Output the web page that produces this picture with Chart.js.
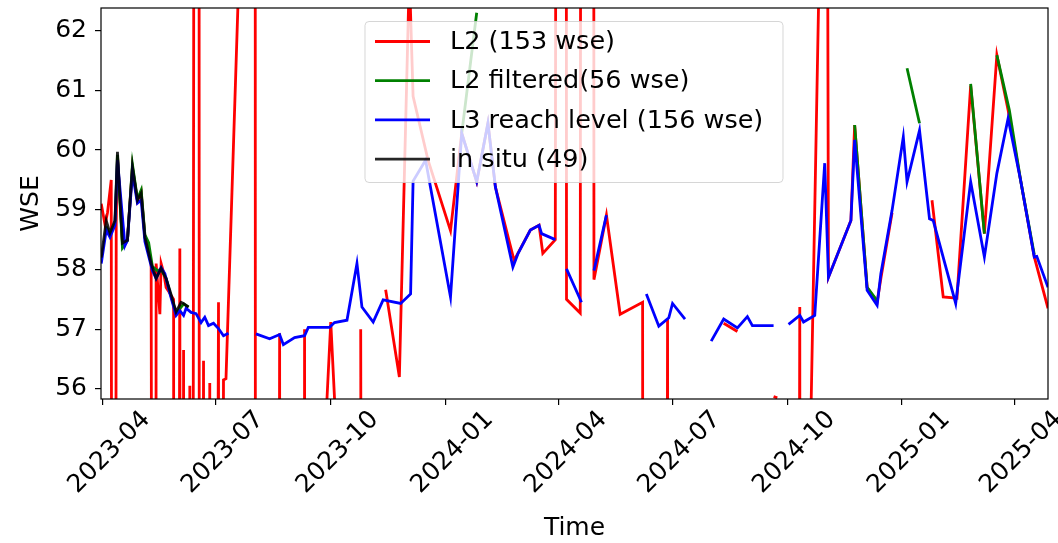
<!DOCTYPE html>
<html lang="en">
  <head>
    <meta charset="UTF-8" />
    <title>WSE time series</title>
    <script src="https://cdn.jsdelivr.net/npm/chart.js"></script>
    <style>
      body { margin: 0; background: #fff; }
    </style>
  </head>
  <body>
    <canvas id="wseChart" width="1058" height="543"></canvas>
    <script>
      // x values are days since 2023-04-01
      const tickDays = [0, 91, 183, 275, 366, 457, 549, 641, 731];
      const tickLabels = ["2023-04", "2023-07", "2023-10", "2024-01", "2024-04", "2024-07", "2024-10", "2025-01", "2025-04"];
      const wseTicks = [56, 57, 58, 59, 60, 61, 62];

      const l2Days = [-1, 2, 4, 7, 9, 11, 12, 16, 20, 24, 28, 31, 34, 39, 42, 43, 46, 47, 49, 51, 54, 57, 58, 62, 63, 65, 66, 70, 71, 75, 77, 78, 81, 82, 86, 87, 93, 94, 97, 99, 111, 122, 123, 139, 142, 143, 161, 162, 163, 178, 183, 188, 195, 207, 210, 215, 227, 238, 246, 249, 261, 279, 288, 300, 309, 315, 330, 343, 350, 353, 363, 366, 371, 372, 383, 385, 393, 394, 404, 415, 433, 434, 450, 453, 455, 470, 498, 509, 520, 538, 541, 548, 555, 559, 560, 567, 575, 580, 582, 600, 603, 613, 621, 624, 633, 650, 665, 674, 685, 696, 707, 717, 726, 736, 747, 758];
      const l2Wse = [59.10, 58.75, 58.95, 59.50, 20, 58.80, 59.90, 58.45, 58.50, 59.70, 59.15, 59.30, 58.55, 58.10, 20, 58.10, 57.25, 58.10, 57.95, 57.70, 57.60, 57.50, 20, 58.35, 20, 56.65, 20, 56.05, 20, 100, 100, 20, 56.47, 20, 56.10, 20, 57.45, 20, 56.15, 56.17, 64.0, 100, 20, 20, 56.93, 20, 20, 57.00, 20, 55.0, 57.12, 55.0, null, 57.00, 20, null, 57.66, 56.20, 62.95, 60.90, 59.83, 58.65, 60.28, 59.47, 60.45, 59.38, 58.15, 58.66, 58.74, 58.27, 58.50, 100, 100, 57.50, 57.27, 100, 100, 57.83, 58.91, 57.25, 57.45, 20, 20, 57.17, 20, null, 57.10, 56.96, null, 55.87, 55.85, null, 20, 57.37, 20, 54.5, 63.5, 75, 57.87, 58.82, 60.42, 57.70, 57.45, 57.85, 58.95, null, 59.16, 57.54, 57.52, 61.08, 58.60, 61.59, 60.67, 59.50, 58.21, 57.35];

      const l2fDays = [3, 6, 10, 12, 16, 20, 24, 28, 31, 34, 37, 40, 44, 47, 51, 54, 59, 65, 69, 150, 288, 300, 450, 603, 613, 621, 630, 645, 655, 670, 696, 707, 712, 717, 727, 736, 747];
      const l2fWse = [58.72, 58.58, 58.78, 59.92, 58.36, 58.48, 59.76, 59.18, 59.33, 58.58, 58.45, 58.05, 57.98, 58.00, 57.85, 57.62, 57.27, 57.42, 57.37, null, 60.28, 62.30, null, 60.42, 57.70, 57.48, null, 61.37, 60.45, null, 61.11, 58.60, null, 61.59, 60.67, 59.50, 58.25];

      const l3Days = [-1, 3, 6, 10, 12, 18, 20, 24, 28, 31, 34, 40, 43, 47, 50, 54, 59, 62, 65, 67, 71, 75, 79, 82, 85, 89, 93, 97, 101, 110, 123, 134, 142, 145, 154, 162, 165, 182, 186, 196, 204, 208, 217, 225, 239, 247, 249, 259, 279, 288, 300, 309, 315, 329, 333, 343, 350, 352, 363, 368, 372, 384, 389, 394, 404, 420, 436, 446, 454, 457, 467, 478, 488, 498, 509, 517, 521, 538, 544, 550, 559, 562, 571, 579, 582, 600, 603, 613, 621, 624, 633, 642, 645, 655, 663, 666, 684, 696, 707, 717, 726, 736, 747, 749, 758];
      const l3Wse = [58.10, 58.66, 58.54, 58.74, 59.83, 58.40, 58.49, 59.61, 59.11, 59.16, 58.47, 57.98, 57.85, 58.03, 57.93, 57.60, 57.23, 57.31, 57.23, 57.35, 57.28, 57.26, 57.11, 57.20, 57.06, 57.10, 57.01, 56.89, 56.93, null, 56.92, 56.84, 56.91, 56.74, 56.86, 56.89, 57.03, 57.03, 57.11, 57.15, 58.10, 57.37, 57.12, 57.49, 57.43, 57.59, 59.48, 59.83, 57.54, 60.28, 59.47, 60.45, 59.38, 58.04, 58.26, 58.66, 58.74, 58.60, 58.50, null, 58.01, 57.45, null, 57.98, 58.91, null, 57.59, 57.05, 57.19, 57.43, 57.17, null, 56.80, 57.17, 57.02, 57.21, 57.06, 57.06, null, 57.08, 57.23, 57.12, 57.23, 59.78, 57.87, 58.82, 60.17, 57.65, 57.40, 57.93, 58.99, 60.22, 59.47, 60.33, 58.85, 58.82, 57.43, 59.47, 58.21, 59.61, 60.53, 59.50, 58.21, 58.22, 57.70];

      const insituDays = [-1, 3, 6, 10, 12, 16, 20, 24, 28, 31, 34, 39, 43, 47, 51, 54, 59, 63, 65, 69];
      const insituWse = [58.20, 58.82, 58.61, 58.82, 59.97, 58.44, 58.49, 59.72, 59.16, 59.28, 58.54, 58.10, 57.85, 58.02, 57.85, 57.65, 57.29, 57.45, 57.43, 57.37];

      function toPoints(days, values) {
        return days.map((d, i) => ({ x: d, y: values[i] }));
      }

      Chart.defaults.font.family = "'DejaVu Sans', sans-serif";
      Chart.defaults.font.size = 25;
      Chart.defaults.color = "#000";

      const framePlugin = {
        id: "frame",
        afterDraw(chart) {
          const { ctx, chartArea: a } = chart;
          ctx.save();
          ctx.strokeStyle = "#000";
          ctx.lineWidth = 1.2;
          ctx.strokeRect(a.left, a.top, a.right - a.left, a.bottom - a.top);

          // legend box, upper middle like matplotlib's "best"
          const bx = 365, by = 21.5, bw = 418, bh = 161;
          ctx.beginPath();
          ctx.roundRect(bx, by, bw, bh, 4);
          ctx.fillStyle = "rgba(255,255,255,0.8)";
          ctx.fill();
          ctx.strokeStyle = "rgba(204,204,204,0.8)";
          ctx.lineWidth = 1;
          ctx.stroke();
          ctx.font = "25.5px 'DejaVu Sans'";
          ctx.textBaseline = "middle";
          chart.data.datasets.forEach((ds, i) => {
            const y = 41.5 + i * 39.2;
            ctx.beginPath();
            ctx.moveTo(375, y);
            ctx.lineTo(430, y);
            ctx.strokeStyle = ds.borderColor;
            ctx.lineWidth = 2.8;
            ctx.stroke();
            ctx.fillStyle = "#000";
            ctx.fillText(ds.label, 450, y + 1);
          });
          ctx.restore();
        },
      };

      function makeDataset(label, days, values, color, order) {
        return {
          label: label,
          data: toPoints(days, values),
          borderColor: color,
          borderWidth: 2.8,
          pointRadius: 0,
          tension: 0,
          spanGaps: false,
          clip: 0,
          order: order,
        };
      }

      new Chart(document.getElementById("wseChart").getContext("2d"), {
        type: "line",
        data: {
          datasets: [
            makeDataset("L2 (153 wse)", l2Days, l2Wse, "#ff0000", 4),
            makeDataset("L2 filtered(56 wse)", l2fDays, l2fWse, "#008000", 3),
            makeDataset("L3 reach level (156 wse)", l3Days, l3Wse, "#0000ff", 2),
            makeDataset("in situ (49)", insituDays, insituWse, "rgba(0,0,0,0.85)", 1),
          ],
        },
        options: {
          responsive: false,
          animation: false,
          layout: { padding: { top: 8, right: 10, left: 0, bottom: 0 } },
          plugins: { legend: { display: false }, tooltip: { enabled: false } },
          scales: {
            x: {
              type: "linear",
              min: -1.2,
              max: 758,
              afterBuildTicks: (axis) => {
                axis.ticks = tickDays.map((v) => ({ value: v }));
              },
              afterFit: (s) => {
                s.height = 144;
                s.paddingLeft = 0;
                s.paddingRight = 0;
              },
              ticks: {
                autoSkip: false,
                minRotation: 45,
                maxRotation: 45,
                labelOffset: 44,
                padding: 0,
                callback: (v, i) => tickLabels[i],
              },
              grid: { drawOnChartArea: false, color: "#000", tickLength: 6, lineWidth: 1.2 },
              border: { display: false },
              title: { display: true, text: "Time", padding: { top: 0, bottom: 0 } },
            },
            y: {
              min: 55.83,
              max: 62.38,
              afterBuildTicks: (axis) => {
                axis.ticks = wseTicks.map((v) => ({ value: v }));
              },
              afterFit: (s) => {
                s.width = 101;
                s.paddingTop = 0;
                s.paddingBottom = 0;
              },
              ticks: { padding: 8 },
              grid: { drawOnChartArea: false, color: "#000", tickLength: 6, lineWidth: 1.2 },
              border: { display: false },
              title: { display: true, text: "WSE", padding: { top: 16, bottom: 0 } },
            },
          },
        },
        plugins: [framePlugin],
      });
    </script>
  </body>
</html>
